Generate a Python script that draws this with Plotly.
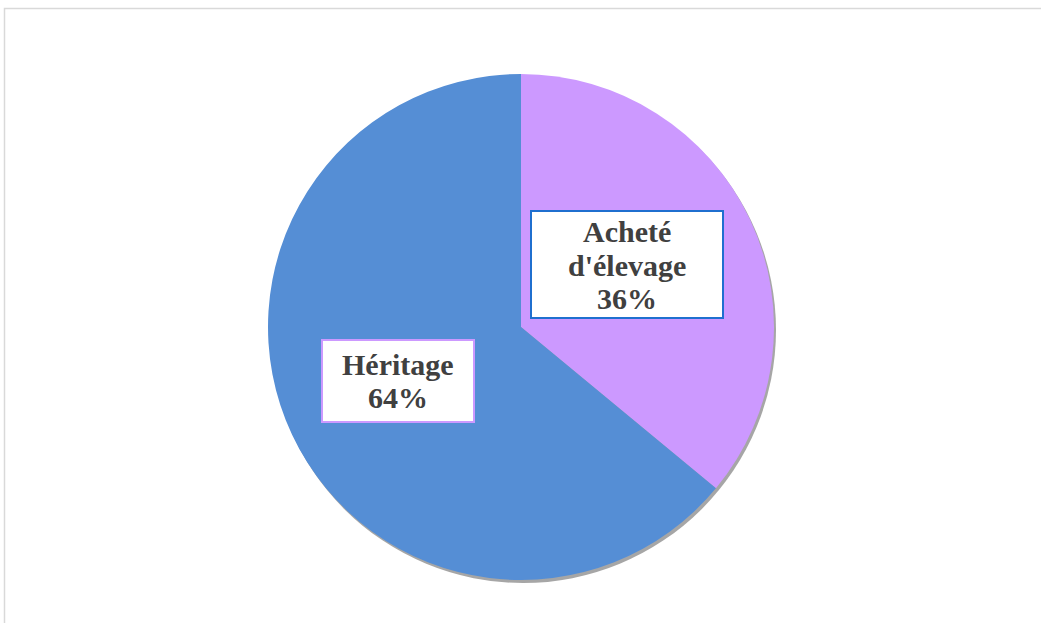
import plotly.graph_objects as go

labels = ["Acheté d'élevage", "Héritage"]
label_lines = [["Acheté", "d'élevage"], ["Héritage"]]
values = [36, 64]
colors = ["#CC99FF", "#558ED5"]
box_borders = ["#1F6FCF", "#CC99FF"]

W, H = 1041, 623
cx, cy, r = 521, 327, 253

def dom(dx=0, dy=0):
    return dict(x=[(cx - r + dx) / W, (cx + r + dx) / W],
                y=[1 - (cy + r + dy) / H, 1 - (cy - r + dy) / H])

fig = go.Figure()
# shadow
fig.add_trace(go.Pie(values=[1], labels=["shadow"], marker=dict(colors=["#A6A6A6"]),
                     domain=dom(2, 3), textinfo="none", hoverinfo="skip",
                     showlegend=False, sort=False))
fig.add_trace(go.Pie(values=values, labels=labels, marker=dict(colors=colors, line=dict(width=0)),
                     domain=dom(), textinfo="none", direction="clockwise", rotation=0,
                     sort=False, showlegend=False))

total = sum(values)
pcts = [round(v / total * 100) for v in values]
# label boxes: (x0, y0, x1, y1) in pixels, first line centre y, line step
boxes = [(531, 211, 723, 318, 231.5, 33.5), (322, 340, 474, 422, 364, 33)]
for i in range(len(values)):
    x0, y0, x1, y1, ly, step = boxes[i]
    fig.add_shape(type="rect", xref="paper", yref="paper",
                  x0=x0 / W, x1=x1 / W, y0=1 - y1 / H, y1=1 - y0 / H,
                  fillcolor="white", line=dict(color=box_borders[i], width=2), layer="above")
    lines = label_lines[i] + [f"{pcts[i]}%"]
    xc = (x0 + x1) / 2
    for j, t in enumerate(lines):
        fig.add_annotation(x=xc / W, y=1 - (ly + j * step) / H, xref="paper", yref="paper",
                           text=t, showarrow=False, xanchor="center", yanchor="middle",
                           font=dict(family="Liberation Serif", size=30, color="#404040",
                                     weight="bold"))

fig.add_shape(type="rect", xref="paper", yref="paper",
              x0=4.5 / W, x1=1.02, y0=-0.02, y1=1 - 8.5 / H,
              line=dict(color="#D9D9D9", width=1.5))

fig.update_layout(width=W, height=H, margin=dict(l=0, r=0, t=0, b=0),
                  paper_bgcolor="white", plot_bgcolor="white", showlegend=False)
fig.write_html("out.html", config={"displayModeBar": False},
               post_script="document.body.style.margin='0';document.body.style.overflow='hidden';")
